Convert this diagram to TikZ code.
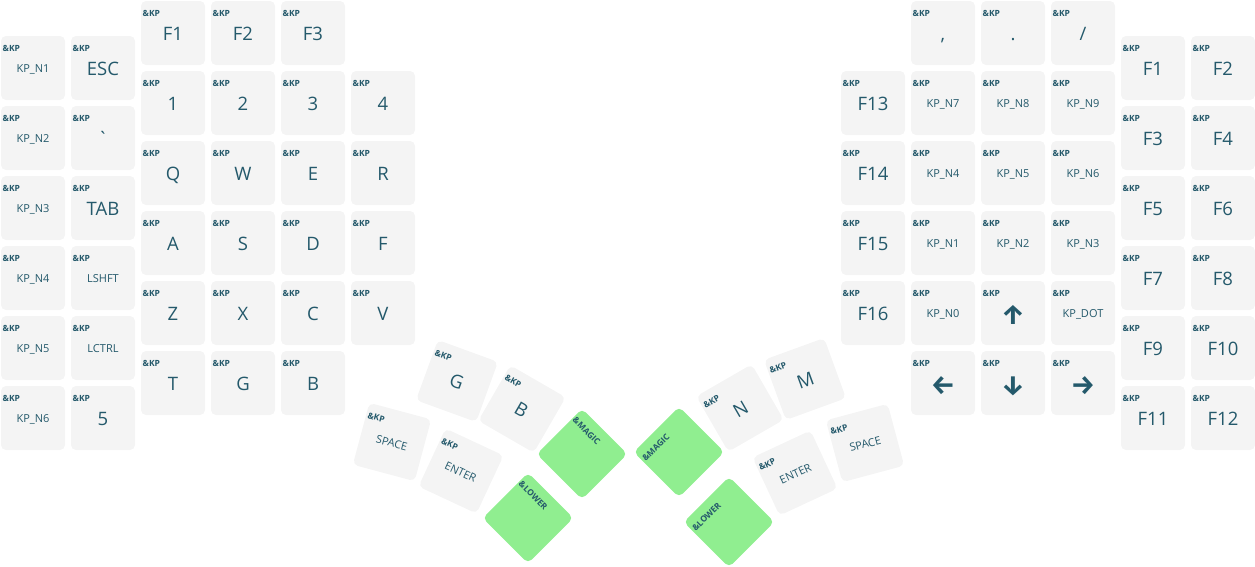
\documentclass[tikz,border=0pt]{standalone}
\usepackage{fontspec}
\setmainfont{Open Sans}
\newfontfamily\arrowfont{Fira Sans}
\usepackage{xcolor}
\usepackage{tikz}
\definecolor{KMKey}{HTML}{F4F4F4}
\definecolor{KMHold}{HTML}{90EE90}
\definecolor{KMText}{HTML}{24596B}
\tikzset{
  keycap/.style={fill=KMKey,rounded corners=5pt,minimum width=64pt,minimum height=64pt,inner sep=0pt,text=KMText,font=\fontsize{18.5pt}{20pt}\selectfont,text height=15.4pt,text depth=0pt},
  smallkey/.style={font=\fontsize{11pt}{12pt}\selectfont,text height=9.9pt,text depth=0pt},
  arrowkey/.style={font=\arrowfont\bfseries\fontsize{27pt}{28pt}\selectfont,text height=22pt,text depth=0pt},
  holdkey/.style={keycap,fill=KMHold},
  kptag/.style={anchor=base west,xshift=1.7pt,yshift=-15.7pt,inner sep=0pt,text=KMText,font=\bfseries\fontsize{8.5pt}{9pt}\selectfont},
  kp/.style={label={[kptag]north west:\&KP}}
}
\begin{document}
\begin{tikzpicture}[x=1pt,y=-1pt]
\path[use as bounding box] (0,0) rectangle (1255,566);
% left hand
\node[keycap,kp,smallkey] (lN1) at (33,68) {KP\_N1};
\node[keycap,kp,smallkey] (lN2) at (33,138) {KP\_N2};
\node[keycap,kp,smallkey] (lN3) at (33,208) {KP\_N3};
\node[keycap,kp,smallkey] (lN4) at (33,278) {KP\_N4};
\node[keycap,kp,smallkey] (lN5) at (33,348) {KP\_N5};
\node[keycap,kp,smallkey] (lN6) at (33,418) {KP\_N6};
\node[keycap,kp] (lEsc) at (103,68) {ESC};
\node[keycap,kp] (lGrave) at (103,138) {\textasciigrave};
\node[keycap,kp] (lTab) at (103,208) {TAB};
\node[keycap,kp,smallkey] (lShift) at (103,278) {LSHFT};
\node[keycap,kp,smallkey] (lCtrl) at (103,348) {LCTRL};
\node[keycap,kp] (lFive) at (103,418) {5};
\node[keycap,kp] (lF1) at (173,33) {F1};
\node[keycap,kp] (lOne) at (173,103) {1};
\node[keycap,kp] (lQ) at (173,173) {Q};
\node[keycap,kp] (lA) at (173,243) {A};
\node[keycap,kp] (lZ) at (173,313) {Z};
\node[keycap,kp] (lT) at (173,383) {T};
\node[keycap,kp] (lF2) at (243,33) {F2};
\node[keycap,kp] (lTwo) at (243,103) {2};
\node[keycap,kp] (lW) at (243,173) {W};
\node[keycap,kp] (lS) at (243,243) {S};
\node[keycap,kp] (lX) at (243,313) {X};
\node[keycap,kp] (lG) at (243,383) {G};
\node[keycap,kp] (lF3) at (313,33) {F3};
\node[keycap,kp] (lThree) at (313,103) {3};
\node[keycap,kp] (lE) at (313,173) {E};
\node[keycap,kp] (lD) at (313,243) {D};
\node[keycap,kp] (lC) at (313,313) {C};
\node[keycap,kp] (lB) at (313,383) {B};
\node[keycap,kp] (lFour) at (383,103) {4};
\node[keycap,kp] (lR) at (383,173) {R};
\node[keycap,kp] (lF) at (383,243) {F};
\node[keycap,kp] (lV) at (383,313) {V};
% left thumbs
\begin{scope}[shift={(457,381)},rotate=-20,transform shape]
\node[keycap,kp] (ltG) at (0,0) {G};
\end{scope}
\begin{scope}[shift={(522,409)},rotate=-30,transform shape]
\node[keycap,kp] (ltB) at (0,0) {B};
\end{scope}
\begin{scope}[shift={(392,442)},rotate=-15,transform shape]
\node[keycap,kp,smallkey] (ltSpace) at (0,0) {SPACE};
\end{scope}
\begin{scope}[shift={(461,471)},rotate=-25,transform shape]
\node[keycap,kp,smallkey] (ltEnter) at (0,0) {ENTER};
\end{scope}
\begin{scope}[shift={(582,454)},rotate=-45,transform shape]
\node[holdkey,label={[kptag]north west:\&MAGIC}] (ltMagic) at (0,0) {};
\end{scope}
\begin{scope}[shift={(528,518)},rotate=-45,transform shape]
\node[holdkey,label={[kptag]north west:\&LOWER}] (ltLower) at (0,0) {};
\end{scope}
% right hand
\node[keycap,kp] (rF13) at (873,103) {F13};
\node[keycap,kp] (rF14) at (873,173) {F14};
\node[keycap,kp] (rF15) at (873,243) {F15};
\node[keycap,kp] (rF16) at (873,313) {F16};
\node[keycap,kp] (rComma) at (943,33) {,};
\node[keycap,kp,smallkey] (rN7) at (943,103) {KP\_N7};
\node[keycap,kp,smallkey] (rN4) at (943,173) {KP\_N4};
\node[keycap,kp,smallkey] (rN1) at (943,243) {KP\_N1};
\node[keycap,kp,smallkey] (rN0) at (943,313) {KP\_N0};
\node[keycap,kp,arrowkey] (rLeft) at (943,383) {←};
\node[keycap,kp] (rDot) at (1013,33) {.};
\node[keycap,kp,smallkey] (rN8) at (1013,103) {KP\_N8};
\node[keycap,kp,smallkey] (rN5) at (1013,173) {KP\_N5};
\node[keycap,kp,smallkey] (rN2) at (1013,243) {KP\_N2};
\node[keycap,kp,arrowkey] (rUp) at (1013,313) {↑};
\node[keycap,kp,arrowkey] (rDown) at (1013,383) {↓};
\node[keycap,kp] (rSlash) at (1083,33) {/};
\node[keycap,kp,smallkey] (rN9) at (1083,103) {KP\_N9};
\node[keycap,kp,smallkey] (rN6) at (1083,173) {KP\_N6};
\node[keycap,kp,smallkey] (rN3) at (1083,243) {KP\_N3};
\node[keycap,kp,smallkey] (rKpDot) at (1083,313) {KP\_DOT};
\node[keycap,kp,arrowkey] (rRight) at (1083,383) {→};
\node[keycap,kp] (rF1) at (1153,68) {F1};
\node[keycap,kp] (rF3) at (1153,138) {F3};
\node[keycap,kp] (rF5) at (1153,208) {F5};
\node[keycap,kp] (rF7) at (1153,278) {F7};
\node[keycap,kp] (rF9) at (1153,348) {F9};
\node[keycap,kp] (rF11) at (1153,418) {F11};
\node[keycap,kp] (rF2) at (1223,68) {F2};
\node[keycap,kp] (rF4) at (1223,138) {F4};
\node[keycap,kp] (rF6) at (1223,208) {F6};
\node[keycap,kp] (rF8) at (1223,278) {F8};
\node[keycap,kp] (rF10) at (1223,348) {F10};
\node[keycap,kp] (rF12) at (1223,418) {F12};
% right thumbs
\begin{scope}[shift={(805,379)},rotate=20,transform shape]
\node[keycap,kp] (rtM) at (0,0) {M};
\end{scope}
\begin{scope}[shift={(740,408)},rotate=30,transform shape]
\node[keycap,kp] (rtN) at (0,0) {N};
\end{scope}
\begin{scope}[shift={(865,443)},rotate=15,transform shape]
\node[keycap,kp,smallkey] (rtSpace) at (0,0) {SPACE};
\end{scope}
\begin{scope}[shift={(795,473)},rotate=25,transform shape]
\node[keycap,kp,smallkey] (rtEnter) at (0,0) {ENTER};
\end{scope}
\begin{scope}[shift={(679,452)},rotate=45,transform shape]
\node[holdkey,label={[kptag]north west:\&MAGIC}] (rtMagic) at (0,0) {};
\end{scope}
\begin{scope}[shift={(729,522)},rotate=45,transform shape]
\node[holdkey,label={[kptag]north west:\&LOWER}] (rtLower) at (0,0) {};
\end{scope}
\end{tikzpicture}
\end{document}
